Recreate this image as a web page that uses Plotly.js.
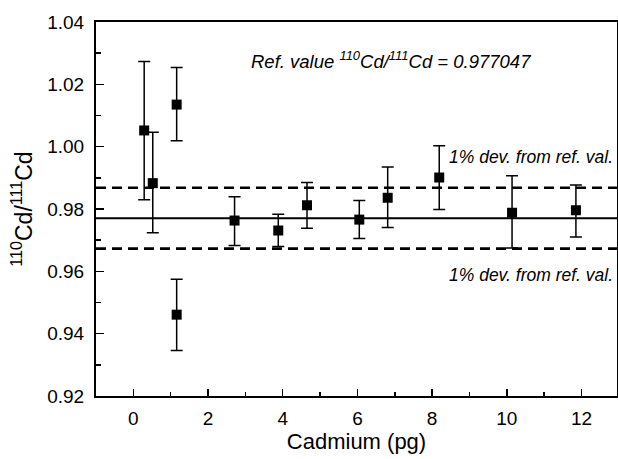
<!DOCTYPE html>
<html>
<head>
<meta charset="utf-8">
<script src="https://cdn.plot.ly/plotly-3.0.1.min.js"></script>
<style>html,body{margin:0;padding:0;background:#fff;}#chart{width:618px;height:459px;}</style>
</head>
<body>
<div id="chart"></div>
<script>
// Data
const cadmium = [0.29, 0.52, 1.16, 1.16, 2.71, 3.88, 4.65, 6.05, 6.81, 8.19, 10.14, 11.85];
const ratio   = [1.0052, 0.9883, 1.0135, 0.9461, 0.9763, 0.9731, 0.9812, 0.9766, 0.9836, 0.9901, 0.9788, 0.9796];
const upper   = [1.0273, 1.0046, 1.0254, 0.9575, 0.9839, 0.9783, 0.9885, 0.9827, 0.9935, 1.0003, 0.9907, 0.9877];
const lower   = [0.9830, 0.9724, 1.0019, 0.9346, 0.9683, 0.9680, 0.9738, 0.9705, 0.9741, 0.9798, 0.9675, 0.9710];
const refValue = 0.977047;
const devFraction = 0.01;
const refLabel = "Ref. value <sup>110</sup>Cd/<sup>111</sup>Cd = 0.977047";
const devLabel = "1% dev. from ref. val.";
const xTitle = "Cadmium (pg)";
const yTitle = "<sup>110</sup>Cd/<sup>111</sup>Cd";

const errPlus = ratio.map((v, i) => upper[i] - v);
const errMinus = ratio.map((v, i) => v - lower[i]);
const devHigh = refValue * (1 + devFraction);
const devLow = refValue * (1 - devFraction);

const FONT = "Liberation Sans, Arial, sans-serif";

const trace = {
  x: cadmium, y: ratio, type: "scatter", mode: "markers",
  marker: {symbol: "square", size: 10, color: "#000"},
  error_y: {type: "data", symmetric: false, array: errPlus, arrayminus: errMinus,
            color: "#000", thickness: 1.5, width: 6},
  showlegend: false, hoverinfo: "x+y"
};

const lineShape = (y, dash, w) => ({
  type: "line", xref: "paper", x0: 0, x1: 1, yref: "y", y0: y, y1: y,
  line: {color: "#000", width: w, dash: dash}, layer: "below"
});

const layout = {
  width: 618, height: 459,
  margin: {l: 96, r: 1, t: 22, b: 63},
  paper_bgcolor: "#fff", plot_bgcolor: "#fff",
  font: {family: FONT, color: "#000", size: 19},
  xaxis: {
    range: [-1.0, 12.95], dtick: 2, tick0: 0,
    ticks: "inside", ticklen: 7, tickwidth: 1.5, tickcolor: "#000",
    minor: {dtick: 1, ticks: "inside", ticklen: 4, tickwidth: 1.5, tickcolor: "#000"},
    showline: true, linecolor: "#000", linewidth: 2, mirror: true,
    showgrid: false, zeroline: false,
    tickfont: {size: 19, family: FONT}, ticklabelstandoff: 4,
    title: {text: xTitle, font: {size: 22, family: FONT}, standoff: 6}
  },
  yaxis: {
    range: [0.92, 1.04], dtick: 0.02, tick0: 0.92, tickformat: ".2f",
    ticks: "inside", ticklen: 8, tickwidth: 1.5, tickcolor: "#000",
    minor: {dtick: 0.01, ticks: "inside", ticklen: 5, tickwidth: 1.5, tickcolor: "#000"},
    showline: true, linecolor: "#000", linewidth: 2, mirror: true,
    showgrid: false, zeroline: false,
    tickfont: {size: 19, family: FONT}, ticklabelstandoff: 6,
    title: {text: yTitle, font: {size: 23, family: FONT}, standoff: 8}
  },
  shapes: [
    lineShape(refValue, "solid", 2),
    lineShape(devHigh, "10px,6px", 2.6),
    lineShape(devLow, "10px,6px", 2.6)
  ],
  annotations: [
    {xref: "paper", yref: "paper", x: 0.567, y: 0.898, xanchor: "center", yanchor: "middle",
     text: "<i>" + refLabel + "</i>", showarrow: false, font: {size: 18.5, family: FONT}},
    {xref: "paper", yref: "y", x: 0.996, y: devHigh, xanchor: "right", yanchor: "middle", yshift: 31,
     text: "<i>" + devLabel + "</i>", showarrow: false, font: {size: 17.5, family: FONT}},
    {xref: "paper", yref: "y", x: 0.996, y: devLow, xanchor: "right", yanchor: "middle", yshift: -26,
     text: "<i>" + devLabel + "</i>", showarrow: false, font: {size: 17.5, family: FONT}}
  ]
};

Plotly.newPlot("chart", [trace], layout, {displayModeBar: false, staticPlot: true});
</script>
</body>
</html>
